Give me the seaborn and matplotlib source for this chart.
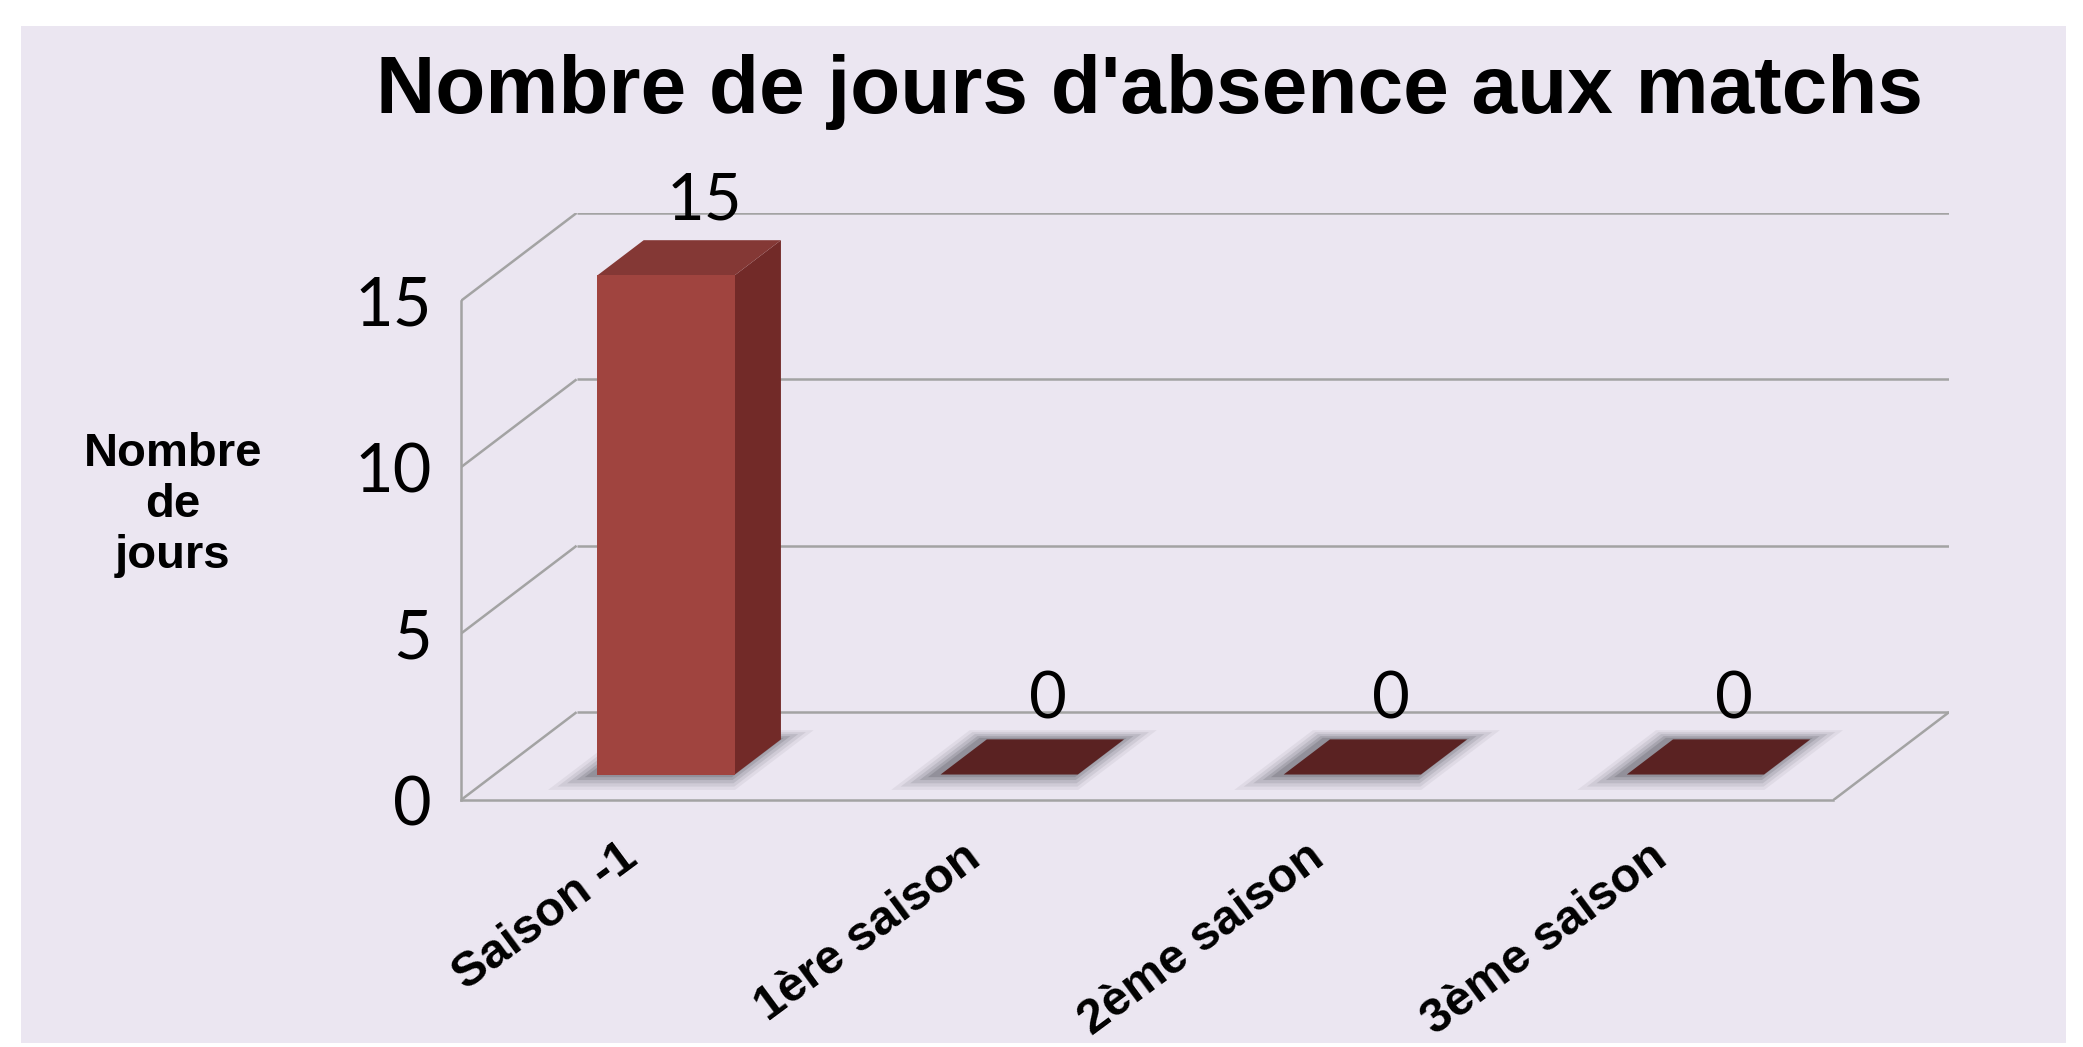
import matplotlib
matplotlib.use("Agg")
import matplotlib.pyplot as plt
from matplotlib.patches import Polygon, Rectangle
import pandas as pd
import seaborn as sns

# data
categories = ["Saison -1", "1ère saison", "2ème saison", "3ème saison"]
jours = [15, 0, 0, 0]
y_ticks = [0, 5, 10, 15]

title = "Nombre de jours d'absence aux matchs"
y_label = "Nombre\nde\njours"

# colours / 3d look
FRONT = "#A0443F"
SIDE = "#722A28"
TOP = "#843835"
FLAT = "#5A2222"
GRID = "#A3A3A3"
BG = "#EBE6F1"

DX, DY = 0.337, 2.64      # depth of the floor in data units
F0, F1 = 0.29, 0.69       # bar depth span (fraction of floor depth)
WIDTH = 0.4

sns.set_style("white")
plt.rcParams["font.family"] = ["Liberation Sans", "DejaVu Sans"]
plt.rcParams["text.color"] = "black"

df = pd.DataFrame({"cat": categories, "val": jours})

fig = plt.figure(figsize=(20.83, 10.47), dpi=100, facecolor="white")
fig.patches.append(Rectangle((0.0101, 0.0038), 0.9818, 0.9713, transform=fig.transFigure,
                             facecolor=BG, edgecolor="none", zorder=-10))
ax = fig.add_axes([0.2213, 0.2359, 0.7144, 0.5607])
ax.set_facecolor("none")

sns.barplot(data=df, x="cat", y="val", color=FRONT, saturation=1, width=WIDTH,
            ax=ax, zorder=5, linewidth=0)

n = len(categories)
ymax = max(y_ticks)
ax.set_xlim(-0.5, n - 0.5 + DX)
ax.set_ylim(0, ymax + DY)


def para(xl, xr, h, f0, f1):
    return [(xl + f0 * DX, h + f0 * DY), (xr + f0 * DX, h + f0 * DY),
            (xr + f1 * DX, h + f1 * DY), (xl + f1 * DX, h + f1 * DY)]


# frame: left wall diagonals and back wall gridlines
gkw = dict(color=GRID, lw=1.8, solid_capstyle="butt", zorder=1)
for k in y_ticks:
    ax.plot([-0.5, -0.5 + DX], [k, k + DY], **gkw)
    ax.plot([-0.5 + DX, n - 0.5 + DX], [k + DY, k + DY], **gkw)
ax.plot([n - 0.5, n - 0.5 + DX], [0, DY], **gkw)

# shadows and 3d faces
for p, v in zip(ax.patches, jours):
    xl = p.get_x()
    xr = xl + p.get_width()
    for s, a in [(0.07, 0.08), (0.055, 0.11), (0.04, 0.15), (0.025, 0.2), (0.012, 0.25)]:
        ax.add_patch(Polygon(para(xl - s - 0.015, xr + s - 0.01, 0, F0 - s * 2.5, F1 + s * 1.5),
                             closed=True, facecolor="#55555E", alpha=a, edgecolor="none", zorder=2))
    if v > 0:
        side = [(xr + F0 * DX, F0 * DY), (xr + F1 * DX, F1 * DY),
                (xr + F1 * DX, v + F1 * DY), (xr + F0 * DX, v + F0 * DY)]
        ax.add_patch(Polygon(side, closed=True, facecolor=SIDE, edgecolor="none", zorder=4))
    ax.add_patch(Polygon(para(xl, xr, v, F0, F1), closed=True,
                         facecolor=TOP if v > 0 else FLAT, edgecolor="none", zorder=4))
    p.set_x(xl + F0 * DX)
    p.set_y(F0 * DY)

# value labels
for i, v in enumerate(jours):
    ax.text(i + 0.21, v + 2.45, str(v), ha="center", va="baseline",
            fontsize=47, family="Lato", color="black", zorder=6)

# axes, ticks
for s in ["top", "right"]:
    ax.spines[s].set_visible(False)
for s in ["left", "bottom"]:
    ax.spines[s].set_color(GRID)
    ax.spines[s].set_linewidth(1.8)
ax.spines["left"].set_bounds(0, ymax)
ax.spines["bottom"].set_bounds(-0.5, n - 0.5)

ax.set_yticks(y_ticks)
ax.set_yticklabels([str(t) for t in y_ticks], family="Lato", fontsize=48)
ax.tick_params(axis="y", length=14, width=1.8, color=GRID, pad=7, labelcolor="black")

ax.set_xticks([i - 0.5 for i in range(n + 1)])
ax.set_xticklabels([])
ax.tick_params(axis="x", which="major", length=9, width=1.8, color=GRID, direction="out")
ax.set_xticks(range(n), categories, minor=True)
ax.tick_params(axis="x", which="minor", length=0, pad=38, labelcolor="black")
for lbl in ax.get_xticklabels(minor=True):
    lbl.set_rotation(36.5)
    lbl.set_rotation_mode("anchor")
    lbl.set_ha("right")
    lbl.set_va("center")
    lbl.set_fontweight("bold")
    lbl.set_fontsize(35)
ax.set_xlabel("")
ax.set_ylabel("")

fig.text(0.5517, 0.892, title, ha="center", va="baseline", fontsize=59,
         fontweight="bold", color="black")
fig.text(0.083, 0.5177, y_label, ha="center", va="center", multialignment="center",
         fontsize=34, fontweight="bold", color="black")

fig.savefig("out.png", dpi=100, facecolor="white")
